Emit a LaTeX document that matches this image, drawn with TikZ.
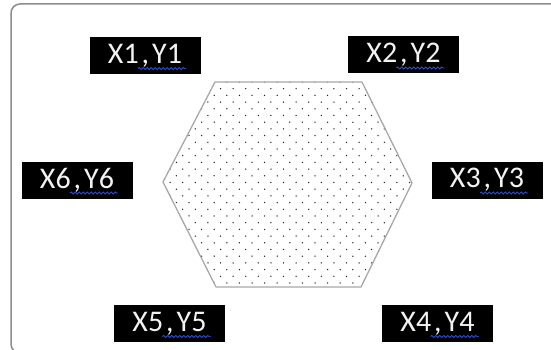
\documentclass[tikz,border=0pt]{standalone}
\usepackage{fontspec}
\setmainfont{Carlito}
\usetikzlibrary{calc,patterns,decorations.pathmorphing}

\definecolor{framegray}{HTML}{8C8C8C}
\definecolor{edgegray}{HTML}{A8A8A8}
\definecolor{spellblue}{HTML}{2F4FC8}
\definecolor{textwhite}{HTML}{F2F2F2}

\pgfdeclarepatternformonly{sparse dots}{\pgfqpoint{-1pt}{-1pt}}{\pgfqpoint{7.5pt}{8pt}}{\pgfqpoint{12.6pt}{13.4pt}}{%
	\pgfpathcircle{\pgfqpoint{0pt}{0pt}}{0.75pt}
	\pgfpathcircle{\pgfqpoint{6.3pt}{6.7pt}}{0.75pt}
	\pgfusepath{fill}}

\begin{document}
\begin{tikzpicture}[x=1pt,y=-1pt,every node/.style={outer sep=0pt}]
	
	\tikzstyle{coordbox}=[fill=black,text=textwhite,inner sep=0pt,minimum width=111pt,minimum height=37pt,font=\fontsize{30}{32}\selectfont]
	
	\tikzstyle{hexagon}=[draw=edgegray,line width=1.3pt,line join=round,pattern=sparse dots,pattern color=black!85]
	
	\tikzstyle{squiggle}=[spellblue,line width=0.9pt,decorate,decoration={snake,amplitude=1pt,segment length=4pt}]
	
	\useasboundingbox (0,0) rectangle (551,350);
	\draw [framegray,line width=1.5pt,rounded corners=9pt] (11,4) rectangle (570,353);
	
%	hexagon with dotted fill
	\draw [hexagon] (215,82) -- (362,82) -- (412,183) -- (361,287) -- (216,287) -- (163,182) -- cycle;
	
	\node (p1) at (145,55.5) [coordbox] {X1\hspace{3pt},\hspace{3pt}Y1};
	\node (p2) at (403.5,55) [coordbox] {X2\hspace{3pt},\hspace{3pt}Y2};
	\node (p3) at (487,180) [coordbox] {X3\hspace{3pt},\hspace{3pt}Y3};
	\node (p4) at (437.5,323.5) [coordbox] {X4\hspace{3pt},\hspace{3pt}Y4};
	\node (p5) at (169.5,323.5) [coordbox] {X5\hspace{3pt},\hspace{3pt}Y5};
	\node (p6) at (77,180) [coordbox] {X6\hspace{3pt},\hspace{3pt}Y6};
	
%	spell check marks under the Y parts
	\foreach \p in {p1,p2,p3,p4,p5,p6}
		\draw [squiggle] ($(\p.center)+(-7,13)$) -- ($(\p.center)+(41,13)$);
	
\end{tikzpicture}
\end{document}
